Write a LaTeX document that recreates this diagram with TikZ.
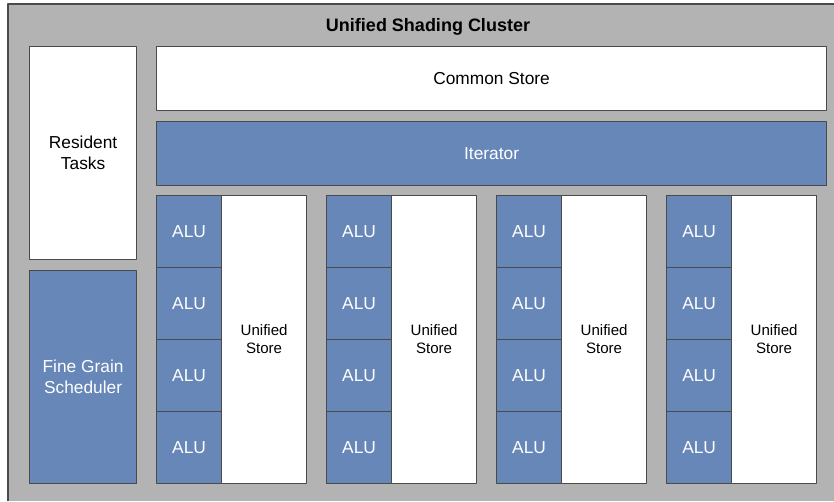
\documentclass[tikz,border=0pt]{standalone}
\usepackage{fontspec}
\setmainfont{Liberation Sans}
\usetikzlibrary{positioning}
\definecolor{clustergray}{HTML}{B3B3B3}
\definecolor{unitblue}{HTML}{6787B8}
\definecolor{edgegray}{HTML}{4A4A4A}
\tikzset{
	unitbox/.style={draw=edgegray, line width=0.9pt, fill=white, inner sep=0pt, anchor=north west, align=center},
	alubox/.style={unitbox, fill=unitblue, text=white},
}
\begin{document}
\begin{tikzpicture}[x=0.75pt,y=-0.75pt,font=\fontsize{13}{15.5}\selectfont,line join=round]
		\useasboundingbox (0,0) rectangle (834,501);
		\fill[clustergray] (8,4) rectangle (834,501);
		\draw[edgegray,line width=1pt] (8,501)--(8,4)--(834,4);
		\node[font=\bfseries\fontsize{13.5}{16}\selectfont] (title) at (428,27) {Unified Shading Cluster};
		% left column
		\node[unitbox, minimum width=0.75pt*107, minimum height=0.75pt*213] (resident) at (29,46) {Resident\\Tasks};
		\node[alubox, minimum width=0.75pt*107, minimum height=0.75pt*213] (scheduler) at (29,270) {Fine Grain\\Scheduler};
		% top rows
		\node[unitbox, minimum width=0.75pt*670, minimum height=0.75pt*64] (common) at (156,46) {Common Store};
		\node[alubox, minimum width=0.75pt*670, minimum height=0.75pt*64] (iterator) at (156,121) {Iterator};
		% ALU columns
		\foreach \i in {0,...,3}{
			\node[unitbox, minimum width=0.75pt*85, minimum height=0.75pt*288, font=\fontsize{11.3}{13.5}\selectfont] (store\i) at (221+170*\i,195) {Unified\\Store};
			\foreach \j in {0,...,3}
			\node[alubox, minimum width=0.75pt*65, minimum height=0.75pt*72] (alu\i-\j) at (156+170*\i,195+72*\j) {ALU};
		}
	\end{tikzpicture}
\end{document}
